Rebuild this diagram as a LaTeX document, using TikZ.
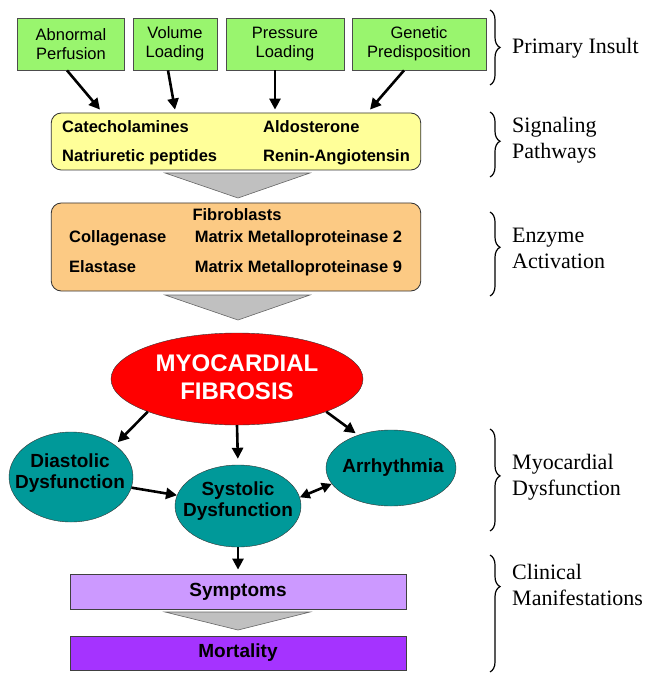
\documentclass[tikz,border=0pt]{standalone}
\usepackage{fontspec}
\setmainfont{Liberation Serif}
\setsansfont{Liberation Sans}
\usetikzlibrary{arrows.meta,shapes.geometric,decorations.pathreplacing}
\definecolor{insultgreen}{RGB}{153,245,110}
\definecolor{signalyellow}{RGB}{255,255,153}
\definecolor{enzymeorange}{RGB}{252,202,132}
\definecolor{fibred}{RGB}{255,0,0}
\definecolor{dysteal}{RGB}{0,153,153}
\definecolor{symplilac}{RGB}{204,153,255}
\definecolor{mortpurple}{RGB}{165,51,255}
\definecolor{funnelgray}{RGB}{192,192,192}
\begin{document}
\begin{tikzpicture}[x=1pt, y=-1pt]
        \tikzstyle{insult} = [draw=black!70, fill=insultgreen, line width=0.8pt, minimum height=52pt, inner sep=0pt, align=center, font=\sffamily\fontsize{16.5}{19}\selectfont]
        \tikzstyle{pathbox} = [draw=black!80, line width=0.8pt, rounded corners=10pt, minimum width=369.5pt, inner sep=0pt]
        \tikzstyle{boxtext} = [anchor=base west, inner sep=0pt, font=\sffamily\bfseries\fontsize{16.5}{19}\selectfont]
        \tikzstyle{dysfn} = [draw=black!80, fill=dysteal, ellipse, inner sep=0pt]
        \tikzstyle{dystext} = [inner sep=0pt, align=center, font=\sffamily\bfseries\fontsize{19}{21.5}\selectfont]
        \tikzstyle{outcome} = [draw=black!75, line width=0.8pt, minimum width=336pt, inner sep=0pt, font=\sffamily\bfseries\fontsize{19}{22}\selectfont]
        \tikzstyle{funnel} = [draw=black!60, fill=funnelgray, line width=0.6pt]
        \tikzstyle{arr} = [line width=2.6pt, -{Triangle[length=11pt, width=11pt]}]
        \tikzstyle{stage} = [anchor=west, align=left, inner sep=0pt, font=\fontsize{22}{26}\selectfont]
        \tikzstyle{bracket} = [line width=1.2pt, decorate]

        \useasboundingbox (0,0) rectangle (656,684);

        \node[insult, minimum width=107pt] (perf) at (71,44) {Abnormal\\Perfusion};
        \node[insult, minimum width=84pt] (vol) at (175,44) {Volume\\Loading};
        \node[insult, minimum width=118pt] (pres) at (285,44) {Pressure\\Loading};
        \node[insult, minimum width=134pt] (gen) at (419,44) {Genetic\\Predisposition};

        \node[pathbox, fill=signalyellow, minimum height=57pt] (sig) at (236,141.5) {};
        \node[boxtext] (cat) at (62,133) {Catecholamines};
        \node[boxtext] (ald) at (263,133) {Aldosterone};
        \node[boxtext] (nat) at (62,162) {Natriuretic peptides};
        \node[boxtext] (ren) at (263,162) {Renin-Angiotensin};

        \draw[arr] ([xshift=-4pt]perf.south) -- ([xshift=-136pt, yshift=3pt]sig.north);
        \draw[arr] ([xshift=-7pt]vol.south) -- ([xshift=-61pt, yshift=3pt]sig.north);
        \draw[arr] ([xshift=-10pt]pres.south) -- ([xshift=39pt, yshift=3pt]sig.north);
        \draw[arr] ([xshift=-15pt]gen.south) -- ([xshift=134pt, yshift=3pt]sig.north);

        \draw[funnel] (165,173) -- (310,173) -- (238,198) -- cycle;

        \node[pathbox, fill=enzymeorange, minimum height=88pt] (enz) at (236,247) {};
        \node[boxtext, anchor=base] (fibro) at (237,221) {Fibroblasts};
        \node[boxtext] (coll) at (69,243) {Collagenase};
        \node[boxtext] (mmp2) at (194.6,243) {Matrix Metalloproteinase 2};
        \node[boxtext] (ela) at (69,272) {Elastase};
        \node[boxtext] (mmp9) at (194.6,272) {Matrix Metalloproteinase 9};

        \draw[funnel] (165,295) -- (310,295) -- (238,320) -- cycle;

        \node[ellipse, draw=black!80, fill=fibred, minimum width=252pt, minimum height=92pt, inner sep=0pt] (fib) at (237,379) {};
        \node[inner sep=0pt, align=center, text=white, font=\sffamily\bfseries\fontsize{24}{28}\selectfont] (fibtxt) at (237,377) {MYOCARDIAL\\FIBROSIS};

        \node[dysfn, minimum width=124pt, minimum height=90pt] (dia) at (71,477) {};
        \node[dystext] (diatxt) at (70,473) {Diastolic\\Dysfunction};
        \node[dysfn, minimum width=126pt, minimum height=82pt] (sys) at (238,506) {};
        \node[dystext] (systxt) at (238,501) {Systolic\\Dysfunction};
        \node[dysfn, minimum width=130pt, minimum height=76pt] (arr) at (391,468) {};
        \node[dystext] (arrtxt) at (393,468) {Arrhythmia};

        \draw[arr, shorten >=4pt] (fib.south west) -- (dia.north east);
        \draw[arr, shorten >=6pt] (fib.south) -- (sys.north);
        \draw[arr, shorten >=3pt] (fib.south east) -- (arr.135);
        \draw[arr] (dia.-10) -- (sys.170);
        \draw[line width=2.6pt, {Triangle[length=10pt, width=10pt]}-{Triangle[length=10pt, width=10pt]}] (sys.8) -- (arr.195);

        \node[outcome, fill=symplilac, minimum height=35pt] (sym) at (238,591.5) {Symptoms};
        \node[outcome, fill=mortpurple, minimum height=34pt] (mort) at (238,653) {Mortality};

        \draw[arr, shorten >=4pt] (sys.south) -- (sym.north);
        \draw[funnel] (165,612) -- (310,612) -- (238,630) -- cycle;

        \node[stage] (ins) at (512,48) {Primary Insult};
        \node[stage] (spw) at (512,140.5) {Signaling\\Pathways};
        \node[stage] (eact) at (512,248.5) {Enzyme\\Activation};
        \node[stage] (mdys) at (512,477.5) {Myocardial\\Dysfunction};
        \node[stage] (clin) at (512,585) {Clinical\\Manifestations};

        \draw[bracket, decoration={brace, amplitude=10pt, aspect=0.5}] (490,10) -- (490,85);
        \draw[bracket, decoration={brace, amplitude=10pt, aspect=0.45}] (490,112) -- (490,177);
        \draw[bracket, decoration={brace, amplitude=10pt, aspect=0.42}] (490,212) -- (490,296);
        \draw[bracket, decoration={brace, amplitude=10pt, aspect=0.46}] (490,429) -- (490,531);
        \draw[bracket, decoration={brace, amplitude=10pt, aspect=0.27}] (490,555) -- (490,672);
    \end{tikzpicture}
\end{document}
